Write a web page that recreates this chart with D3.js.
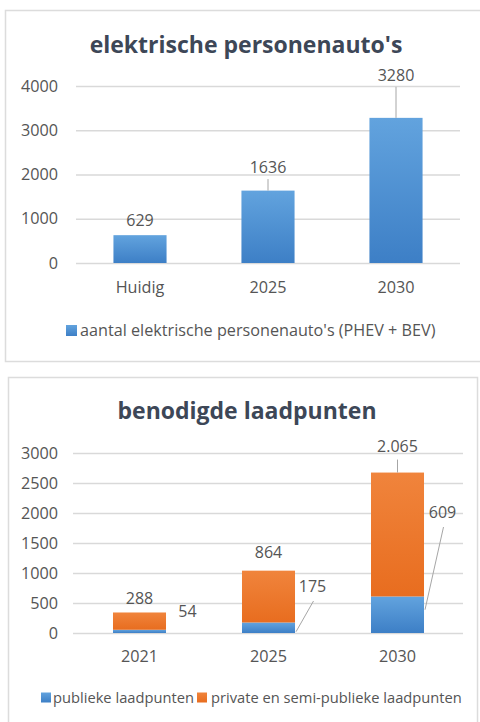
<!DOCTYPE html>
<html>
<head>
<meta charset="utf-8">
<script src="https://cdn.jsdelivr.net/npm/d3@7"></script>
<style>
  html, body { margin: 0; padding: 0; background: #fff; }
  svg { display: block; }
  text { font-family: "Open Sans", "Noto Sans", sans-serif; }
</style>
</head>
<body>
<svg id="chart" width="480" height="722"></svg>
<script>
// ---- Data ----
const carCategories = ["Huidig", "2025", "2030"];
const carValues = [629, 1636, 3280];
const carTicks = [0, 1000, 2000, 3000, 4000];
const carTitle = "elektrische personenauto's";
const carLegend = "aantal elektrische personenauto's (PHEV + BEV)";

const chargeCategories = ["2021", "2025", "2030"];
const publicValues = [54, 175, 609];
const privateValues = [288, 864, 2065];
const chargeTicks = [0, 500, 1000, 1500, 2000, 2500, 3000];
const chargeTitle = "benodigde laadpunten";
const chargeSeriesNames = ["publieke laadpunten", "private en semi-publieke laadpunten"];

// ---- Styles / layout ----
const textColor = "#555555";
const titleColor = "#3d4757";
const gridColor = "#d9d9d9";
const leaderColor = "#a6a6a6";
const nl = d3.formatLocale({decimal: ",", thousands: ".", grouping: [3], currency: ["€", ""]});
const fmtNL = nl.format(",d");
const tickFont = 16.2;
const labelFont = 16;

const svg = d3.select("#chart");
const defs = svg.append("defs");
function grad(id, top, bottom) {
  const g = defs.append("linearGradient").attr("id", id)
    .attr("x1", 0).attr("y1", 0).attr("x2", 0).attr("y2", 1);
  g.append("stop").attr("offset", "0%").attr("stop-color", top);
  g.append("stop").attr("offset", "100%").attr("stop-color", bottom);
}
grad("gBlue", "#62a3de", "#3d7fc6");
grad("gOrange", "#f0843c", "#e86d1f");

// panels
svg.append("rect").attr("x", 5.5).attr("y", 10.5).attr("width", 480).attr("height", 351)
  .attr("fill", "#fff").attr("stroke", "#dcdcdc").attr("stroke-width", 1.5);
svg.append("rect").attr("x", 8.5).attr("y", 377.5).attr("width", 469).attr("height", 360)
  .attr("fill", "#fff").attr("stroke", "#dcdcdc").attr("stroke-width", 1.5);

// ===== Chart 1 =====
{
  const g = svg.append("g");
  const x = d3.scaleBand().domain(carCategories).range([76, 460]).paddingInner(0.585).paddingOuter(0.2925);
  const y = d3.scaleLinear().domain([0, 4000]).range([263, 86]);

  g.append("text").attr("x", 246).attr("y", 53).attr("text-anchor", "middle")
    .attr("font-size", 23).attr("font-weight", 700).attr("fill", titleColor).text(carTitle);

  const yAxis = g.append("g").attr("transform", "translate(76,0)")
    .call(d3.axisLeft(y).tickValues(carTicks).tickSize(-384).tickPadding(18).tickFormat(d3.format("d")));
  yAxis.select(".domain").remove();
  yAxis.selectAll(".tick line").attr("stroke", gridColor).attr("stroke-width", 1.5);
  yAxis.selectAll(".tick text").attr("fill", textColor).attr("font-size", tickFont).attr("font-family", "Open Sans");

  const xAxis = g.append("g").attr("transform", "translate(0,263)")
    .call(d3.axisBottom(x).tickSize(0).tickPadding(18));
  xAxis.select(".domain").remove();
  xAxis.selectAll(".tick text").attr("fill", textColor).attr("font-size", tickFont).attr("font-family", "Open Sans");

  g.selectAll("rect.bar").data(carValues).join("rect").attr("class", "bar")
    .attr("x", (d, i) => x(carCategories[i])).attr("width", x.bandwidth())
    .attr("y", d => y(d)).attr("height", d => y(0) - y(d)).attr("fill", "url(#gBlue)");

  // label layout: distance of label baseline above bar top; leader if > 12
  const labelRise = [9, 17.5, 37];
  carValues.forEach((v, i) => {
    const cx = x(carCategories[i]) + x.bandwidth() / 2;
    const ty = y(v) - labelRise[i];
    if (labelRise[i] > 12) {
      g.append("line").attr("x1", cx).attr("x2", cx).attr("y1", ty + 6).attr("y2", y(v))
        .attr("stroke", leaderColor).attr("stroke-width", 1);
    }
    g.append("text").attr("x", cx).attr("y", ty).attr("text-anchor", "middle")
      .attr("font-size", labelFont).attr("fill", textColor).text(d3.format("d")(v));
  });

  // legend
  g.append("rect").attr("x", 66).attr("y", 325).attr("width", 11).attr("height", 11).attr("fill", "url(#gBlue)");
  g.append("text").attr("x", 80).attr("y", 336).attr("font-size", 16.2).attr("fill", textColor).text(carLegend);
}

// ===== Chart 2 =====
{
  const g = svg.append("g");
  const x = d3.scaleBand().domain(chargeCategories).range([75, 462]).paddingInner(0.589).paddingOuter(0.2945);
  const y = d3.scaleLinear().domain([0, 3000]).range([633, 453]);

  g.append("text").attr("x", 247).attr("y", 419).attr("text-anchor", "middle")
    .attr("font-size", 23).attr("font-weight", 700).attr("fill", titleColor).text(chargeTitle);

  const yAxis = g.append("g").attr("transform", "translate(73,0)")
    .call(d3.axisLeft(y).tickValues(chargeTicks).tickSize(-390).tickPadding(15).tickFormat(d3.format("d")));
  yAxis.select(".domain").remove();
  yAxis.selectAll(".tick line").attr("stroke", gridColor).attr("stroke-width", 1.5);
  yAxis.selectAll(".tick text").attr("fill", textColor).attr("font-size", tickFont).attr("font-family", "Open Sans");

  const xAxis = g.append("g").attr("transform", "translate(0,633)")
    .call(d3.axisBottom(x).tickSize(0).tickPadding(17));
  xAxis.select(".domain").remove();
  xAxis.selectAll(".tick text").attr("fill", textColor).attr("font-size", tickFont).attr("font-family", "Open Sans");

  const rows = chargeCategories.map((c, i) => ({cat: c, pub: publicValues[i], priv: privateValues[i]}));
  const stack = d3.stack().keys(["pub", "priv"])(rows);
  const fills = ["url(#gBlue)", "url(#gOrange)"];
  stack.forEach((layer, li) => {
    g.selectAll("rect.s" + li).data(layer).join("rect").attr("class", "s" + li)
      .attr("x", d => x(d.data.cat)).attr("width", x.bandwidth())
      .attr("y", d => y(d[1])).attr("height", d => y(d[0]) - y(d[1])).attr("fill", fills[li]);
  });

  // private labels: above the stack top
  const privRise = [8, 13, 21];
  stack[1].forEach((d, i) => {
    const cx = x(d.data.cat) + x.bandwidth() / 2;
    const ty = y(d[1]) - privRise[i];
    if (privRise[i] > 15) {
      g.append("line").attr("x1", cx).attr("x2", cx).attr("y1", ty + 8).attr("y2", y(d[1]))
        .attr("stroke", leaderColor).attr("stroke-width", 1);
    }
    g.append("text").attr("x", cx).attr("y", ty).attr("text-anchor", "middle")
      .attr("font-size", labelFont).attr("fill", textColor).text(fmtNL(d.data.priv));
  });

  // public labels: to the right of the bar, with leader lines to the segment
  const pubDx = [48, 44, 45];
  const pubDy = [-16, -41, -115];
  stack[0].forEach((d, i) => {
    const cx = x(d.data.cat) + x.bandwidth() / 2;
    const right = x(d.data.cat) + x.bandwidth();
    const segY = y(d[1]);
    const lx = cx + pubDx[i];
    const ly = y(0) + pubDy[i];
    if (i > 0) {
      g.append("line").attr("x1", lx + 1).attr("y1", ly + 9)
        .attr("x2", right + 1).attr("y2", (segY + y(0)) / 2 + (i === 2 ? -5 : 0) + (i === 1 ? 4 : 0))
        .attr("stroke", leaderColor).attr("stroke-width", 1);
    }
    g.append("text").attr("x", lx).attr("y", ly).attr("text-anchor", "middle")
      .attr("font-size", labelFont).attr("fill", textColor).text(fmtNL(d.data.pub));
  });

  // legend
  g.append("rect").attr("x", 41).attr("y", 692.5).attr("width", 10).attr("height", 10).attr("fill", "url(#gBlue)");
  g.append("text").attr("x", 53).attr("y", 703).attr("font-size", 14.7).attr("fill", textColor).text(chargeSeriesNames[0]);
  g.append("rect").attr("x", 197).attr("y", 692.5).attr("width", 10).attr("height", 10).attr("fill", "url(#gOrange)");
  g.append("text").attr("x", 211).attr("y", 703).attr("font-size", 14.7).attr("fill", textColor).text(chargeSeriesNames[1]);
}
</script>
</body>
</html>
